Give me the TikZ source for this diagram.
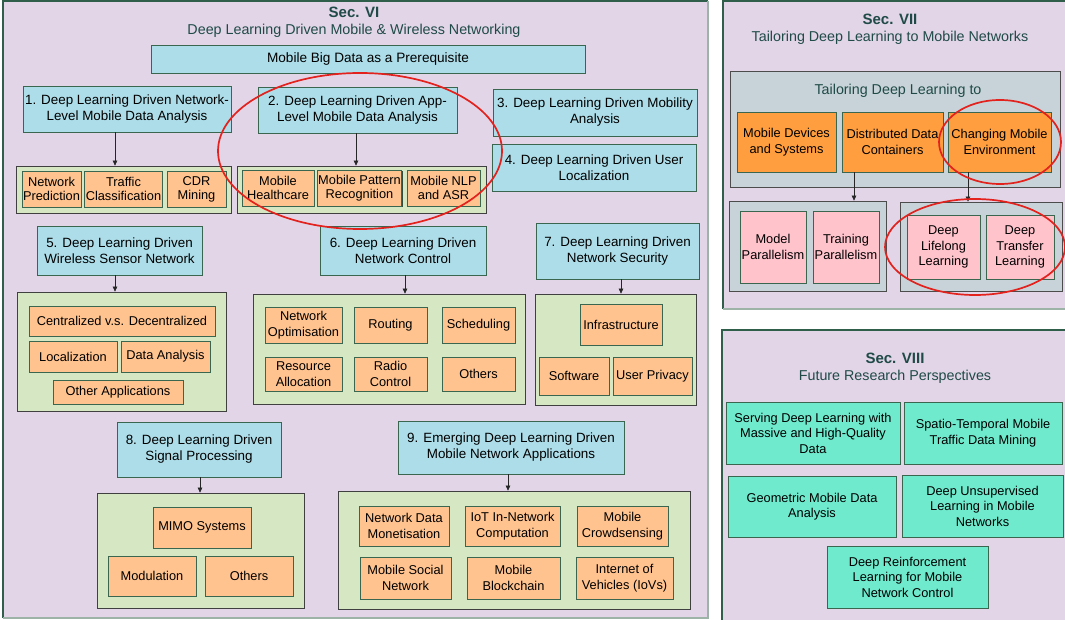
\documentclass[tikz,border=0pt]{standalone}
\usepackage{fontspec}
\setmainfont{Liberation Sans}
\usetikzlibrary{arrows.meta,shadows}
\definecolor{panel}{HTML}{E1D5E7}
\definecolor{pdark}{HTML}{2F5F4A}
\definecolor{plight}{HTML}{9DB3A8}
\definecolor{bluebox}{HTML}{ADDDE9}
\definecolor{grp}{HTML}{D5E8C3}
\definecolor{peach}{HTML}{FFC38F}
\definecolor{dorange}{HTML}{FF9E3F}
\definecolor{graybox}{HTML}{C7D3D8}
\definecolor{pinkb}{HTML}{FFC3CC}
\definecolor{tealb}{HTML}{6FEACD}
\definecolor{bord}{HTML}{3A6650}
\definecolor{shad}{HTML}{2E4F40}
\definecolor{sectxt}{HTML}{1F4A47}
\definecolor{ellred}{HTML}{E3211D}
\newcommand\bx[7]{\node[#6, minimum width={(#4-#2)*1pt}, minimum height={(#5-#3)*1pt}] (#1) at ({(#2+#4)/2},{(#3+#5)/2}) {#7};}
\tikzset{
  box/.style={draw=bord, line width=0.9pt, inner sep=1pt, align=center,
    font=\fontsize{12.8}{15.5}\selectfont,
    general shadow={fill=shad, shadow xshift=1.2pt, shadow yshift=-1.2pt}},
  bluen/.style={box, fill=bluebox, font=\fontsize{13.4}{16}\selectfont},
  peachn/.style={box, fill=peach},
  tightn/.style={peachn, font=\fontsize{12.8}{14.2}\selectfont},
  orangen/.style={box, fill=dorange},
  pinkn/.style={box, fill=pinkb},
  tealn/.style={box, fill=tealb},
  grpn/.style={draw=black!75, line width=0.7pt, fill=grp, inner sep=0pt},
  grayn/.style={draw=black!70, line width=0.7pt, fill=graybox, inner sep=0pt},
  sectitle/.style={text=sectxt, font=\fontsize{15}{17}\selectfont\bfseries},
  secsub/.style={text=sectxt, font=\fontsize{14.3}{17}\selectfont},
  arr/.style={-{Triangle[length=5pt,width=4.5pt]}, line width=0.6pt, black!85},
  ell/.style={draw=ellred, line width=1.7pt}
}
\begin{document}
\begin{tikzpicture}[x=1pt,y=-1pt]
\useasboundingbox (0,0) rectangle (1065,620);
\fill[white] (0,0) rectangle (1065,620);
% panels
\fill[panel] (3,1) rectangle (708,618);
\draw[pdark, line width=1.3pt] (3,618) -- (3,1) -- (708,1);
\draw[plight, line width=1.3pt] (708,1) -- (708,618) -- (3,618);
\fill[panel] (723,1) rectangle (1066,309);
\draw[pdark, line width=1.3pt] (723,309) -- (723,1) -- (1066,1);
\draw[plight, line width=1.3pt] (723,309) -- (1066,309);
\fill[panel] (722,330) rectangle (1066,621);
\draw[pdark, line width=1.3pt] (722,621) -- (722,330) -- (1066,330);

% Sec VI headings
\node[sectitle] (s6) at (354,12) {Sec. VI};
\node[secsub] (s6b) at (354,31) {Deep Learning Driven Mobile \& Wireless Networking};
\bx{big}{151}{45}{585}{73}{bluen, font=\fontsize{13.6}{16}\selectfont}{Mobile Big Data as a Prerequisite}

% row 1
\bx{b1}{23}{86}{231}{132}{bluen}{1. Deep Learning Driven Network-\\Level Mobile Data Analysis}
\bx{b2}{258}{87}{457}{133}{bluen}{2. Deep Learning Driven App-\\Level Mobile Data Analysis}
\bx{b3}{493}{89}{697}{136}{bluen}{3. Deep Learning Driven Mobility\\Analysis}
\bx{b4}{492}{144}{696}{191}{bluen}{4. Deep Learning Driven User\\Localization}

\bx{g1}{16}{166}{231}{213}{grpn}{}
\bx{g1a}{22}{171}{81}{207}{tightn}{Network\\Prediction}
\bx{g1b}{85}{171}{162}{207}{tightn}{Traffic\\Classification}
\bx{g1c}{167}{171}{226}{207}{tightn}{CDR\\Mining}

\bx{g2}{237}{166}{486}{213}{grpn}{}
\bx{g2a}{242}{170}{314}{206}{tightn}{Mobile\\Healthcare}
\bx{g2b}{318}{170}{401}{206}{tightn}{Mobile Pattern\\Recognition}
\bx{g2c}{407}{170}{480}{206}{tightn}{Mobile NLP\\and ASR}

% row 2
\bx{b5}{37}{226}{202}{275}{bluen}{5. Deep Learning Driven\\Wireless Sensor Network}
\bx{b6}{320}{226}{486}{275}{bluen}{6. Deep Learning Driven\\Network Control}
\bx{b7}{536}{223}{699}{279}{bluen}{7. Deep Learning Driven\\Network Security}

\bx{g5}{17}{292}{226}{411}{grpn}{}
\bx{g5a}{29}{306}{215}{336}{peachn}{Centralized v.s. Decentralized}
\bx{g5b}{29}{341}{117}{372}{peachn}{Localization}
\bx{g5c}{121}{341}{210}{372}{peachn}{Data Analysis}
\bx{g5d}{53}{380}{183}{404}{peachn}{Other Applications}

\bx{g6}{253}{294}{525}{404}{grpn}{}
\bx{g6a}{265}{307}{342}{343}{peachn}{Network\\Optimisation}
\bx{g6b}{354}{307}{427}{343}{peachn}{Routing}
\bx{g6c}{442}{307}{515}{343}{peachn}{Scheduling}
\bx{g6d}{265}{357}{342}{391}{peachn}{Resource\\Allocation}
\bx{g6e}{354}{357}{427}{391}{peachn}{Radio\\Control}
\bx{g6f}{442}{357}{515}{391}{peachn}{Others}

\bx{g7}{535}{294}{696}{405}{grpn}{}
\bx{g7a}{580}{304}{662}{345}{peachn}{Infrastructure}
\bx{g7b}{539}{357}{609}{395}{peachn}{Software}
\bx{g7c}{613}{357}{692}{395}{peachn}{User Privacy}

% row 3
\bx{b8}{117}{422}{281}{477}{bluen}{8. Deep Learning Driven\\Signal Processing}
\bx{b9}{398}{421}{624}{474}{bluen}{9. Emerging Deep Learning Driven\\Mobile Network Applications}

\bx{g8}{97}{493}{304}{608}{grpn}{}
\bx{g8a}{153}{507}{251}{548}{peachn}{MIMO Systems}
\bx{g8b}{108}{556}{196}{596}{peachn}{Modulation}
\bx{g8c}{205}{556}{293}{596}{peachn}{Others}

\bx{g9}{338}{491}{690}{609}{grpn}{}
\bx{g9a}{359}{506}{449}{546}{peachn}{Network Data\\Monetisation}
\bx{g9b}{465}{506}{560}{546}{peachn}{IoT In-Network\\Computation}
\bx{g9c}{577}{506}{668}{546}{peachn}{Mobile\\Crowdsensing}
\bx{g9d}{360}{557}{451}{599}{peachn}{Mobile Social\\Network}
\bx{g9e}{467}{557}{560}{599}{peachn}{Mobile\\Blockchain}
\bx{g9f}{576}{557}{673}{599}{peachn}{Internet of\\Vehicles (IoVs)}

% arrows Sec VI
\coordinate (x1) at (115,0);
\coordinate (x2) at (356,0);
\coordinate (x6) at (405,0);
\coordinate (x7) at (621,0);
\coordinate (x8) at (200,0);
\coordinate (x9) at (508,0);
\draw[arr] (b1.south -| x1) -- (g1.north -| x1);
\draw[arr] (b2.south -| x2) -- (g2.north -| x2);
\draw[arr] (b5.south -| x1) -- (g5.north -| x1);
\draw[arr] (b6.south -| x6) -- (g6.north -| x6);
\draw[arr] (b7.south -| x7) -- (g7.north -| x7);
\draw[arr] (b8.south -| x8) -- (g8.north -| x8);
\draw[arr] (b9.south -| x9) -- (g9.north -| x9);

% Sec VII
\node[sectitle] (s7) at (890,19) {Sec. VII};
\node[secsub] (s7b) at (890,38) {Tailoring Deep Learning to Mobile Networks};
\bx{t7}{730}{71}{1060}{187}{grayn}{}
\node[secsub] (t7t) at (898,91) {Tailoring Deep Learning to};
\bx{o1}{737}{112}{836}{172}{orangen}{Mobile Devices\\and Systems}
\bx{o2}{842}{112}{943}{172}{orangen}{Distributed Data\\Containers}
\bx{o3}{948}{112}{1051}{172}{orangen}{Changing Mobile\\Environment}
\bx{l1}{729}{201}{886}{291}{grayn}{}
\bx{l2}{900}{202}{1062}{291}{grayn}{}
\bx{p1}{740}{211}{806}{283}{pinkn}{Model\\Parallelism}
\bx{p2}{813}{211}{879}{283}{pinkn}{Training\\Parallelism}
\bx{p3}{907}{215}{980}{279}{pinkn}{Deep\\Lifelong\\Learning}
\bx{p4}{986}{215}{1054}{279}{pinkn}{Deep\\Transfer\\Learning}
\coordinate (y1) at (854,0);
\coordinate (y2) at (968,0);
\draw[arr] (o2.south -| y1) -- (l1.north -| y1);
\draw[arr] (o3.south -| y2) -- (l2.north -| y2);

% Sec VIII
\node[sectitle] (s8) at (895,358) {Sec. VIII};
\node[secsub] (s8b) at (895,377) {Future Research Perspectives};
\bx{r1}{726}{402}{900}{464}{tealn}{Serving Deep Learning with\\Massive and High-Quality\\Data}
\bx{r2}{904}{402}{1062}{464}{tealn}{Spatio-Temporal Mobile\\Traffic Data Mining}
\bx{r3}{728}{476}{896}{537}{tealn}{Geometric Mobile Data\\Analysis}
\bx{r4}{902}{475}{1063}{537}{tealn}{Deep Unsupervised\\Learning in Mobile\\Networks}
\bx{r5}{827}{546}{988}{608}{tealn}{Deep Reinforcement\\Learning for Mobile\\Network Control}

% red ellipses
\draw[ell] (360,151) ellipse [x radius=142, y radius=78];
\draw[ell] (1000,142) ellipse [x radius=61, y radius=42];
\draw[ell] (975,247) ellipse [x radius=90, y radius=48];
\end{tikzpicture}
\end{document}
